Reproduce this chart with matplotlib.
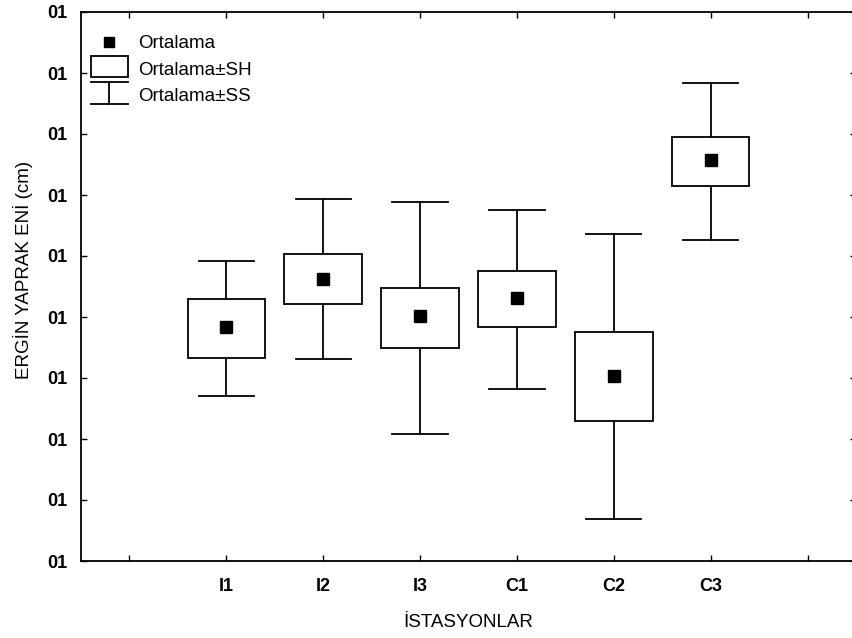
import matplotlib
matplotlib.use("Agg")
import matplotlib.pyplot as plt
from matplotlib.patches import Rectangle
from matplotlib.lines import Line2D
from matplotlib.legend_handler import HandlerBase

plt.rcParams['font.family'] = ['Liberation Sans', 'DejaVu Sans']

stations = ["I1", "I2", "I3", "C1", "C2", "C3"]
means = [3.83, 4.63, 4.02, 4.31, 3.03, 6.57]
se_low = [3.32, 4.21, 3.50, 3.83, 2.29, 6.15]
se_high = [4.30, 5.03, 4.48, 4.76, 3.76, 6.95]
sd_low = [2.71, 3.31, 2.08, 2.82, 0.69, 5.26]
sd_high = [4.91, 5.93, 5.89, 5.75, 5.36, 7.83]
y_ticks = [0, 1, 2, 3, 4, 5, 6, 7, 8, 9]
y_tick_labels = ["01"] * 10
x_tick_labels = [""] + stations + [""]

fig = plt.figure(figsize=(8.53, 6.38), dpi=100)
ax = fig.add_axes([81/853, 77/638, 775/853, 549/638])

box_w = 0.8
cap_w = 0.57
lw = 1.3
for i, name in enumerate(stations):
    x = i + 1
    ax.plot([x, x], [sd_low[i], se_low[i]], color='black', lw=lw, zorder=2)
    ax.plot([x, x], [se_high[i], sd_high[i]], color='black', lw=lw, zorder=2)
    ax.plot([x - cap_w/2, x + cap_w/2], [sd_low[i], sd_low[i]], color='black', lw=lw, zorder=2)
    ax.plot([x - cap_w/2, x + cap_w/2], [sd_high[i], sd_high[i]], color='black', lw=lw, zorder=2)
    ax.add_patch(Rectangle((x - box_w/2, se_low[i]), box_w, se_high[i] - se_low[i],
                           facecolor='white', edgecolor='black', lw=lw, zorder=3))
    ax.plot([x], [means[i]], marker='s', color='black', markersize=8, ls='none', zorder=4)

ax.set_xlim(-0.5, 7.5)
ax.set_ylim(0, 9)
ax.set_xticks(range(8))
ax.set_xticklabels(x_tick_labels, fontweight='bold', fontsize=13)
ax.set_yticks(y_ticks)
ax.set_yticklabels(y_tick_labels, fontweight='bold', fontsize=13)
ax.tick_params(axis='both', direction='in', length=4, width=1, top=True, right=True)
ax.tick_params(axis='x', pad=12)
ax.tick_params(axis='y', pad=10)
for s in ax.spines.values():
    s.set_linewidth(1.3)
ax.set_xlabel("İSTASYONLAR", fontsize=13.5, labelpad=14)
ax.set_ylabel("ERGİN YAPRAK ENİ (cm)", fontsize=13.5)
ax.yaxis.set_label_coords(-48/775, (561 - 270)/549)

PX = 0.72  # points per pixel at 100 dpi
SHIFT = 2 * PX


class BoxHandler(HandlerBase):
    def create_artists(self, legend, orig, xd, yd, w, h, fs, trans):
        hh = 21 * PX
        cy = yd + h/2 + SHIFT
        r = Rectangle((xd, cy - hh/2), w, hh, facecolor='white', edgecolor='black',
                      lw=lw, transform=trans)
        return [r]


class WhiskerHandler(HandlerBase):
    def create_artists(self, legend, orig, xd, yd, w, h, fs, trans):
        hh = 22 * PX
        cy = yd + h/2 + SHIFT
        top = cy + hh/2
        bot = cy - hh/2
        cx = xd + w/2
        l1 = Line2D([xd, xd + w], [top, top], color='black', lw=lw, transform=trans)
        l2 = Line2D([xd, xd + w], [bot, bot], color='black', lw=lw, transform=trans)
        l3 = Line2D([cx, cx], [bot, top], color='black', lw=lw, transform=trans)
        return [l1, l2, l3]


class MeanHandler(HandlerBase):
    def create_artists(self, legend, orig, xd, yd, w, h, fs, trans):
        m = Line2D([xd + w/2], [yd + h/2], marker='s', color='black', markersize=7.5,
                   ls='none', transform=trans)
        return [m]


class _H:
    pass


hm, hb, hw = _H(), _H(), _H()
leg = ax.legend([hm, hb, hw], ["Ortalama", "Ortalama±SH", "Ortalama±SS"],
                handler_map={hm: MeanHandler(), hb: BoxHandler(), hw: WhiskerHandler()},
                loc='upper left', bbox_to_anchor=(10/775, 1 - 23/549), frameon=False,
                fontsize=13.5, handlelength=1.95, handleheight=0.7, labelspacing=0.5,
                handletextpad=0.55, borderaxespad=0, borderpad=0)

fig.savefig("out.png", dpi=100)
